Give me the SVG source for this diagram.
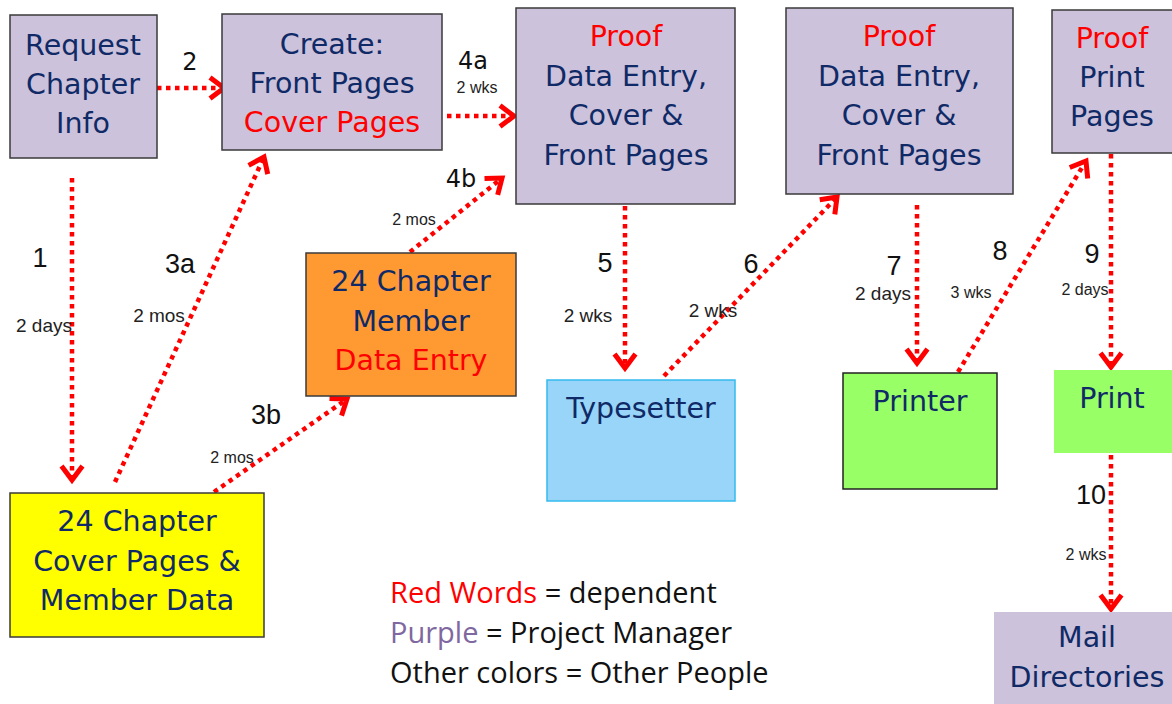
<svg xmlns="http://www.w3.org/2000/svg" width="1172" height="704" viewBox="0 0 1172 704">
<style>
.nt{font-family:"DejaVu Sans",Verdana,sans-serif;font-size:28.5px;fill:#0F2A66;text-anchor:middle}
.red{fill:#FF0000}
.pm{fill:#CCC2DB;stroke:#3A3A3A;stroke-width:1.5}
.num{font-family:"Liberation Sans",Arial,sans-serif;font-size:27px;fill:#111;text-anchor:middle}
.numv{font-family:"DejaVu Sans",Verdana,sans-serif;font-size:24px;fill:#111;text-anchor:middle}
.sm{font-family:"Liberation Sans",Arial,sans-serif;font-size:19px;fill:#222;text-anchor:middle}
.xs{font-family:"Liberation Sans",Arial,sans-serif;font-size:16px;fill:#222;text-anchor:middle}
.lg{font-family:"Open Sans",sans-serif;font-size:29px;fill:#111}
.c{fill:none;stroke:#FF0000;stroke-width:4.5;stroke-dasharray:4.5 4.5;marker-end:url(#ah)}
</style>
<defs>
<marker id="ah" markerUnits="userSpaceOnUse" markerWidth="40" markerHeight="40" viewBox="-20 -20 40 40" refX="0" refY="0" orient="auto">
<path d="M-14,-10.5 L0,0 L-14,10.5" fill="none" stroke="#FF0000" stroke-width="5"/>
</marker>
</defs>
<rect width="1172" height="704" fill="#FFFFFF"/>

<g id="connectors">
<line class="c" x1="72" y1="178" x2="72" y2="480"/>
<line class="c" x1="157" y1="88" x2="224" y2="88"/>
<line class="c" x1="115" y1="482" x2="264" y2="157"/>
<line class="c" x1="214" y1="492" x2="347" y2="399"/>
<line class="c" x1="447" y1="116" x2="514" y2="116"/>
<line class="c" x1="410" y1="252" x2="502" y2="178"/>
<line class="c" x1="625" y1="206" x2="625" y2="368"/>
<line class="c" x1="664" y1="376" x2="837" y2="197"/>
<line class="c" x1="917" y1="205" x2="917" y2="363"/>
<line class="c" x1="958" y1="372" x2="1086" y2="161"/>
<line class="c" x1="1111" y1="154" x2="1111" y2="367"/>
<line class="c" x1="1111" y1="455" x2="1111" y2="609"/>
<text class="num" x="40" y="267">1</text>
<text class="sm" x="44" y="332">2 days</text>
<text class="numv" x="190" y="70">2</text>
<text class="num" x="180" y="273">3a</text>
<text class="sm" x="159" y="322">2 mos</text>
<text class="num" x="266" y="424">3b</text>
<text class="xs" x="232" y="463">2 mos</text>
<text class="numv" x="473" y="69">4a</text>
<text class="xs" x="477" y="93">2 wks</text>
<text class="numv" x="461" y="187">4b</text>
<text class="xs" x="414" y="225">2 mos</text>
<text class="num" x="605" y="272">5</text>
<text class="sm" x="588" y="322">2 wks</text>
<text class="num" x="751" y="273">6</text>
<text class="sm" x="713" y="317">2 wks</text>
<text class="num" x="894" y="275">7</text>
<text class="sm" x="883" y="300">2 days</text>
<text class="num" x="1000" y="260">8</text>
<text class="xs" x="971" y="298">3 wks</text>
<text class="num" x="1092" y="263">9</text>
<text class="xs" x="1085" y="295">2 days</text>
<text class="num" x="1091" y="504">10</text>
<text class="xs" x="1086" y="560">2 wks</text>
</g>

<g id="request">
<rect class="pm" x="10" y="15" width="147" height="143"/>
<text class="nt" x="83" y="55">Request</text>
<text class="nt" x="83" y="94">Chapter</text>
<text class="nt" x="83" y="133">Info</text>
</g>

<g id="create">
<rect class="pm" x="222" y="14" width="220" height="136"/>
<text class="nt" x="332" y="54">Create:</text>
<text class="nt" x="332" y="93">Front Pages</text>
<text class="nt red" x="332" y="132">Cover Pages</text>
</g>

<g id="proof1">
<rect class="pm" x="516" y="8" width="219" height="196"/>
<text class="nt red" x="626" y="46">Proof</text>
<text class="nt" x="626" y="86">Data Entry,</text>
<text class="nt" x="626" y="125">Cover &amp;</text>
<text class="nt" x="626" y="165">Front Pages</text>
</g>

<g id="proof2">
<rect class="pm" x="786" y="8" width="227" height="186"/>
<text class="nt red" x="899" y="46">Proof</text>
<text class="nt" x="899" y="86">Data Entry,</text>
<text class="nt" x="899" y="125">Cover &amp;</text>
<text class="nt" x="899" y="165">Front Pages</text>
</g>

<g id="proof3">
<rect class="pm" x="1052" y="10" width="125" height="143"/>
<text class="nt red" x="1112" y="48">Proof</text>
<text class="nt" x="1112" y="87">Print</text>
<text class="nt" x="1112" y="126">Pages</text>
</g>

<g id="dataentry">
<rect x="306" y="253" width="210" height="143" fill="#FF9A33" stroke="#3A3A3A" stroke-width="1.5"/>
<text class="nt" x="411" y="291">24 Chapter</text>
<text class="nt" x="411" y="331">Member</text>
<text class="nt red" x="411" y="370">Data Entry</text>
</g>

<g id="typesetter">
<rect x="547" y="380" width="188" height="121" fill="#99D5F8" stroke="#33BBEE" stroke-width="1.5"/>
<text class="nt" x="641" y="418">Typesetter</text>
</g>

<g id="printer">
<rect x="843" y="373" width="154" height="116" fill="#99FF66" stroke="#222" stroke-width="1.5"/>
<text class="nt" x="920" y="411">Printer</text>
</g>

<g id="print">
<rect x="1054" y="370" width="118" height="83" fill="#99FF66"/>
<text class="nt" x="1112" y="408">Print</text>
</g>

<g id="coverpages">
<rect x="10" y="493" width="254" height="144" fill="#FFFF00" stroke="#3A3A3A" stroke-width="1.5"/>
<text class="nt" x="137" y="531">24 Chapter</text>
<text class="nt" x="137" y="571">Cover Pages &amp;</text>
<text class="nt" x="137" y="610">Member Data</text>
</g>

<g id="mail">
<rect x="994" y="612" width="178" height="92" fill="#CCC2DB"/>
<text class="nt" x="1087" y="647">Mail</text>
<text class="nt" x="1087" y="687">Directories</text>
</g>

<g id="legend">
<text class="lg" x="390" y="603"><tspan fill="#FF0000">Red Words</tspan> = dependent</text>
<text class="lg" x="390" y="643"><tspan fill="#7F679F">Purple</tspan> = Project Manager</text>
<text class="lg" x="390" y="683">Other colors = Other People</text>
</g>
</svg>
